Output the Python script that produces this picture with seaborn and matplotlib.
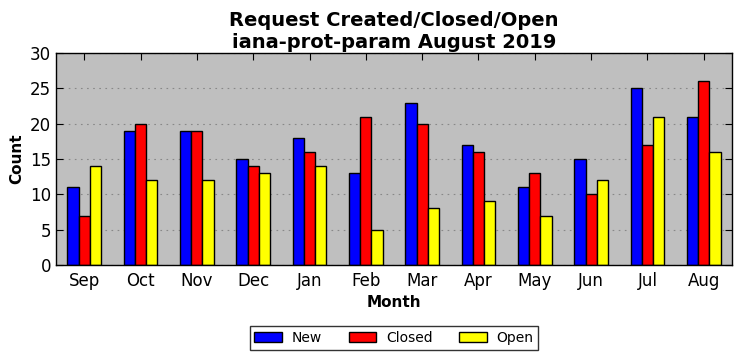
import matplotlib
matplotlib.use("Agg")
import matplotlib.pyplot as plt
import seaborn as sns
import pandas as pd

months = ["Sep", "Oct", "Nov", "Dec", "Jan", "Feb", "Mar", "Apr", "May", "Jun", "Jul", "Aug"]
new = [11, 19, 19, 15, 18, 13, 23, 17, 11, 15, 25, 21]
closed = [7, 20, 19, 14, 16, 21, 20, 16, 13, 10, 17, 26]
open_ = [14, 12, 12, 13, 14, 5, 8, 9, 7, 12, 21, 16]
series = ["New", "Closed", "Open"]
colors = ["#0000ff", "#ff0000", "#ffff00"]

df = pd.DataFrame({
    "Month": months * 3,
    "Count": new + closed + open_,
    "Series": [s for s in series for _ in months],
})

plt.rcParams["font.family"] = ["DejaVu Sans"]
fig = plt.figure(figsize=(7.42, 3.61), dpi=100)
ax = fig.add_axes([0.0755, 0.266, 0.911, 0.587])
ax.set_facecolor("#bfbfbf")

sns.barplot(data=df, x="Month", y="Count", hue="Series", order=months,
            hue_order=series, palette=colors, width=0.6, edgecolor="black",
            linewidth=1, saturation=1, ax=ax)

ax.set_xlim(-0.5, 11.5)
ax.set_ylim(0, 30)
ax.set_yticks([0, 5, 10, 15, 20, 25, 30])
ax.yaxis.grid(True, linestyle=(0, (1.5, 4)), color="#888888", linewidth=0.8)
ax.set_axisbelow(True)
ax.tick_params(axis="both", which="major", direction="in", top=True, right=True,
               length=5, labelsize=12, width=0.8)
ax.tick_params(axis="x", pad=5)
for s in ax.spines.values():
    s.set_color("black")
    s.set_linewidth(1)
ax.set_xlabel("Month", fontsize=11, fontweight="bold")
ax.set_ylabel("Count", fontsize=11, fontweight="bold")
ax.set_title("Request Created/Closed/Open\niana-prot-param August 2019",
             fontsize=14, fontweight="bold", linespacing=1.15, pad=4)

ax.legend(loc="upper center", bbox_to_anchor=(0.5, -0.255), ncol=3, frameon=True,
          fancybox=False, edgecolor="black", fontsize=10, handlelength=2.0,
          columnspacing=1.9, borderpad=0.35, handletextpad=0.7, title=None)
ax.get_legend().get_frame().set_linewidth(1)

fig.savefig("out.png", dpi=100)
